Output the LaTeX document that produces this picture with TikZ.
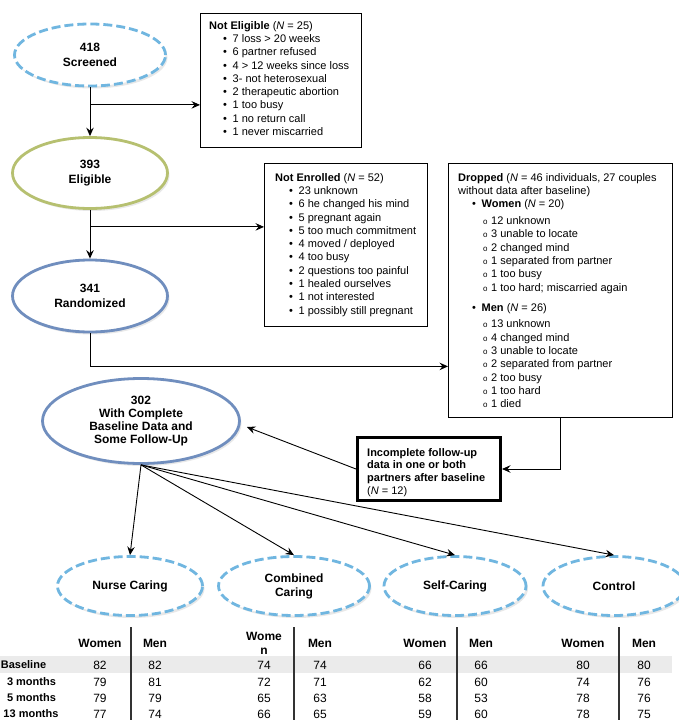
\documentclass[tikz,border=0pt]{standalone}
\usepackage{fontspec}
\setmainfont{Liberation Sans}
\usepackage{tikz}
\usetikzlibrary{shapes.geometric,arrows.meta,shadows}
\definecolor{bleuClair}{RGB}{112,182,224}
\definecolor{vertOlive}{RGB}{182,192,112}
\definecolor{bleuAcier}{RGB}{112,142,190}
\newcommand{\itm}{\hspace*{14pt}\makebox[9.5pt][l]{\textbullet}}
\newcommand{\sitm}{\hspace*{25pt}\makebox[8pt][l]{\fontsize{8}{8}\selectfont o}}

\begin{document}
\begin{tikzpicture}[x=1pt,y=-1pt,
    ell/.style={ellipse,draw,line width=2.8pt,fill=white,inner sep=0pt,align=center,
                font=\fontsize{12}{15}\selectfont\bfseries,
                drop shadow={opacity=0.18,shadow xshift=2pt,shadow yshift=-2.5pt}},
    elldash/.style={ell,draw=bleuClair,dash pattern=on 9pt off 4pt},
    box/.style={draw,line width=1.3pt,inner sep=0pt,anchor=north west},
    txt/.style={inner sep=0pt,anchor=north west,align=left,
                font=\fontsize{11}{13.3}\selectfont},
    arr/.style={->,>={Stealth[length=8.5pt,width=7.5pt,inset=3pt]},line width=0.9pt},
    head/.style={inner sep=0pt,align=center,font=\fontsize{12}{14}\selectfont\bfseries},
    val/.style={inner sep=0pt,font=\fontsize{12}{14}\selectfont},
    rowlab/.style={inner sep=0pt,font=\fontsize{11}{13}\selectfont\bfseries},
    tline/.style={line width=1.2pt,draw=black!80},
  ]
    \useasboundingbox (0,0) rectangle (678,720);

    \node[elldash,minimum width=151pt,minimum height=62pt] (scr) at (90,55) {418\\Screened};
    \node[ell,draw=vertOlive,minimum width=155pt,minimum height=71pt] (eli) at (90,173) {393\\Eligible};
    \node[ell,draw=bleuAcier,minimum width=155pt,minimum height=72pt] (ran) at (90,296) {341\\Randomized};
    \node[ell,draw=bleuAcier,minimum width=197pt,minimum height=85pt,
          font=\fontsize{12}{13.3}\selectfont\bfseries] (comp) at (141,421)
      {302\\With Complete\\Baseline Data and\\Some Follow-Up};

    \node[box,minimum width=161pt,minimum height=134pt] (noteli) at (200,13) {};
    \node[txt] (noteli-t) at ([xshift=9pt,yshift=-8pt]noteli.north west)
      {\textbf{Not Eligible} (\textit{N} = 25)\\
       \itm 7 loss > 20 weeks\\
       \itm 6 partner refused\\
       \itm 4 > 12 weeks since loss\\
       \itm 3- not heterosexual\\
       \itm 2 therapeutic abortion\\
       \itm 1 too busy\\
       \itm 1 no return call\\
       \itm 1 never miscarried};

    \node[box,minimum width=163pt,minimum height=163pt] (notenr) at (264,163) {};
    \node[txt] (notenr-t) at ([xshift=11pt,yshift=-10pt]notenr.north west)
      {\textbf{Not Enrolled} (\textit{N} = 52)\\
       \itm 23 unknown\\
       \itm 6 he changed his mind\\
       \itm 5 pregnant again\\
       \itm 5 too much commitment\\
       \itm 4 moved / deployed\\
       \itm 4 too busy\\
       \itm 2 questions too painful\\
       \itm 1 healed ourselves\\
       \itm 1 not interested\\
       \itm 1 possibly still pregnant};

    \node[box,minimum width=224pt,minimum height=254pt] (drop) at (448,163) {};
    \node[txt] (drop-t) at ([xshift=10pt,yshift=-10pt]drop.north west)
      {\textbf{Dropped} (\textit{N} = 46 individuals, 27 couples\\
       without data after baseline)\\
       \itm\textbf{Women} (\textit{N} = 20)\\[3.5pt]
       \sitm 12 unknown\\
       \sitm 3 unable to locate\\
       \sitm 2 changed mind\\
       \sitm 1 separated from partner\\
       \sitm 1 too busy\\
       \sitm 1 too hard; miscarried again\\[7.5pt]
       \itm\textbf{Men} (\textit{N} = 26)\\[2.7pt]
       \sitm 13 unknown\\
       \sitm 4 changed mind\\
       \sitm 3 unable to locate\\
       \sitm 2 separated from partner\\
       \sitm 2 too busy\\
       \sitm 1 too hard\\
       \sitm 1 died};

    \node[box,line width=3pt,minimum width=143pt,minimum height=63pt] (incomp) at (356,436) {};
    \node[txt,font=\fontsize{11}{12.7}\selectfont\bfseries] (incomp-t)
      at ([xshift=11pt,yshift=-12pt]incomp.north west)
      {Incomplete follow-up\\data in one or both\\partners after baseline\\
       \mdseries(\textit{N} = 12)};

    \node[elldash,minimum width=145pt,minimum height=59pt] (nurse) at (130,586) {Nurse Caring};
    \node[elldash,minimum width=151pt,minimum height=59pt,
          font=\fontsize{12}{14}\selectfont\bfseries] (comb) at (294,586) {Combined\\Caring};
    \node[elldash,minimum width=142pt,minimum height=59pt] (self) at (455,586) {Self-Caring};
    \node[elldash,minimum width=142pt,minimum height=59pt] (ctrl) at (614,586) {Control};

    \coordinate (br1) at ([yshift=-17.5pt]scr.south);
    \coordinate (br2) at ([yshift=-17pt]eli.south);
    \coordinate (br3) at ([yshift=-33pt]ran.south);
    \draw[arr] (scr.south) -- (eli.north);
    \draw[arr] (br1) -- (br1 -| noteli.west);
    \draw[arr] (eli.south) -- (ran.north);
    \draw[arr] (br2) -- (br2 -| notenr.west);
    \draw[arr] (ran.south) -- (br3) -- (br3 -| drop.west);
    \draw[arr] (drop.south) |- (incomp.east);
    \draw[arr] (incomp.west) -- ([xshift=6pt,yshift=-6pt]comp.east);
    \foreach \g in {nurse,comb,self,ctrl}
      \draw[arr] (comp.south) -- (\g.north);

    \fill[gray!16] (0,656) rectangle (672,673);
    \foreach \x in {131,294,457,619}
      \draw[tline] (\x,627) -- (\x,720);

    \foreach \x/\t [count=\i] in {100/Women,155/Men,264/{Wome\\n},320/Men,
                                  425/Women,481/Men,583/Women,644/Men}
      \node[head] (h\i) at (\x,643) {\t};

    \foreach \y/\lx/\lab/\a/\b/\c/\d/\e/\f/\g/\h [count=\r] in {
        665/23.5/Baseline/82/82/74/74/66/66/80/80,
        682/31.5/3 months/79/81/72/71/62/60/74/76,
        698/31.5/5 months/79/79/65/63/58/53/78/76,
        714/31/13 months/77/74/66/65/59/60/78/75}{
      \node[rowlab] (lab\r) at (\lx,\y) {\lab};
      \node[val] (v\r-1) at (100,\y) {\a};
      \node[val] (v\r-2) at (155,\y) {\b};
      \node[val] (v\r-3) at (264,\y) {\c};
      \node[val] (v\r-4) at (320,\y) {\d};
      \node[val] (v\r-5) at (425,\y) {\e};
      \node[val] (v\r-6) at (481,\y) {\f};
      \node[val] (v\r-7) at (583,\y) {\g};
      \node[val] (v\r-8) at (644,\y) {\h};
    }
\end{tikzpicture}
\end{document}
